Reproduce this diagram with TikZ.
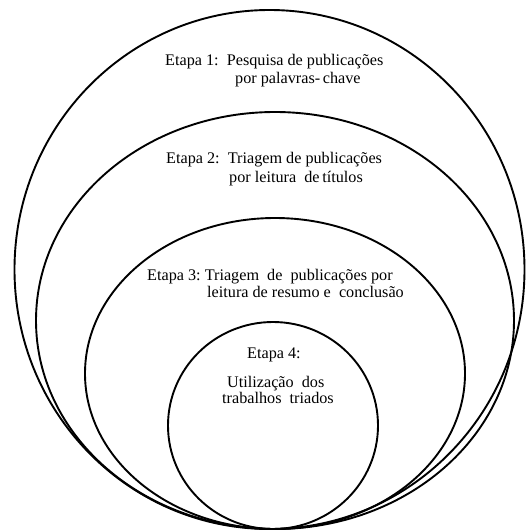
\documentclass[tikz,border=0pt]{standalone}
\usepackage{fontspec}
\setmainfont{Liberation Serif}
\begin{document}
\begin{tikzpicture}[x=1pt,y=-1pt,
  ring/.style={line width=1.9pt},
  lbl/.style={anchor=base west,inner sep=0pt,font=\fontsize{16.2}{19}\selectfont}]
\useasboundingbox (0,0) rectangle (526,531);
\draw[ring] (269.5,269.5) ellipse [x radius=255pt,y radius=259.5pt];
\draw[ring] (275,320.5) ellipse [x radius=239pt,y radius=208.5pt];
\draw[ring] (275,373.5) ellipse [x radius=190pt,y radius=155.5pt];
\draw[ring] (273,425.5) ellipse [x radius=105pt,y radius=103.5pt];
\node[lbl] (e1a) at (165,65) {Etapa 1:\ \ Pesquisa\ de publicações};
\node[lbl] (e1b) at (235,83) {por palavras-\,chave};
\node[lbl] (e2a) at (166,163) {Etapa 2:\ \ Triagem de\ publicações};
\node[lbl] (e2b) at (229,182) {por\ leitura\ \ de\,títulos};
\node[lbl] (e3a) at (147,280) {Etapa 3:\ Triagem\ \ de\ \ publicações por};
\node[lbl] (e3b) at (207,297) {leitura de resumo\ e\ \ conclusão};
\node[lbl] (e4a) at (247,358) {Etapa 4:};
\node[lbl] (e4b) at (227,387) {Utilização\ \ dos};
\node[lbl] (e4c) at (222,403) {trabalhos\ \ triados};
\end{tikzpicture}
\end{document}
